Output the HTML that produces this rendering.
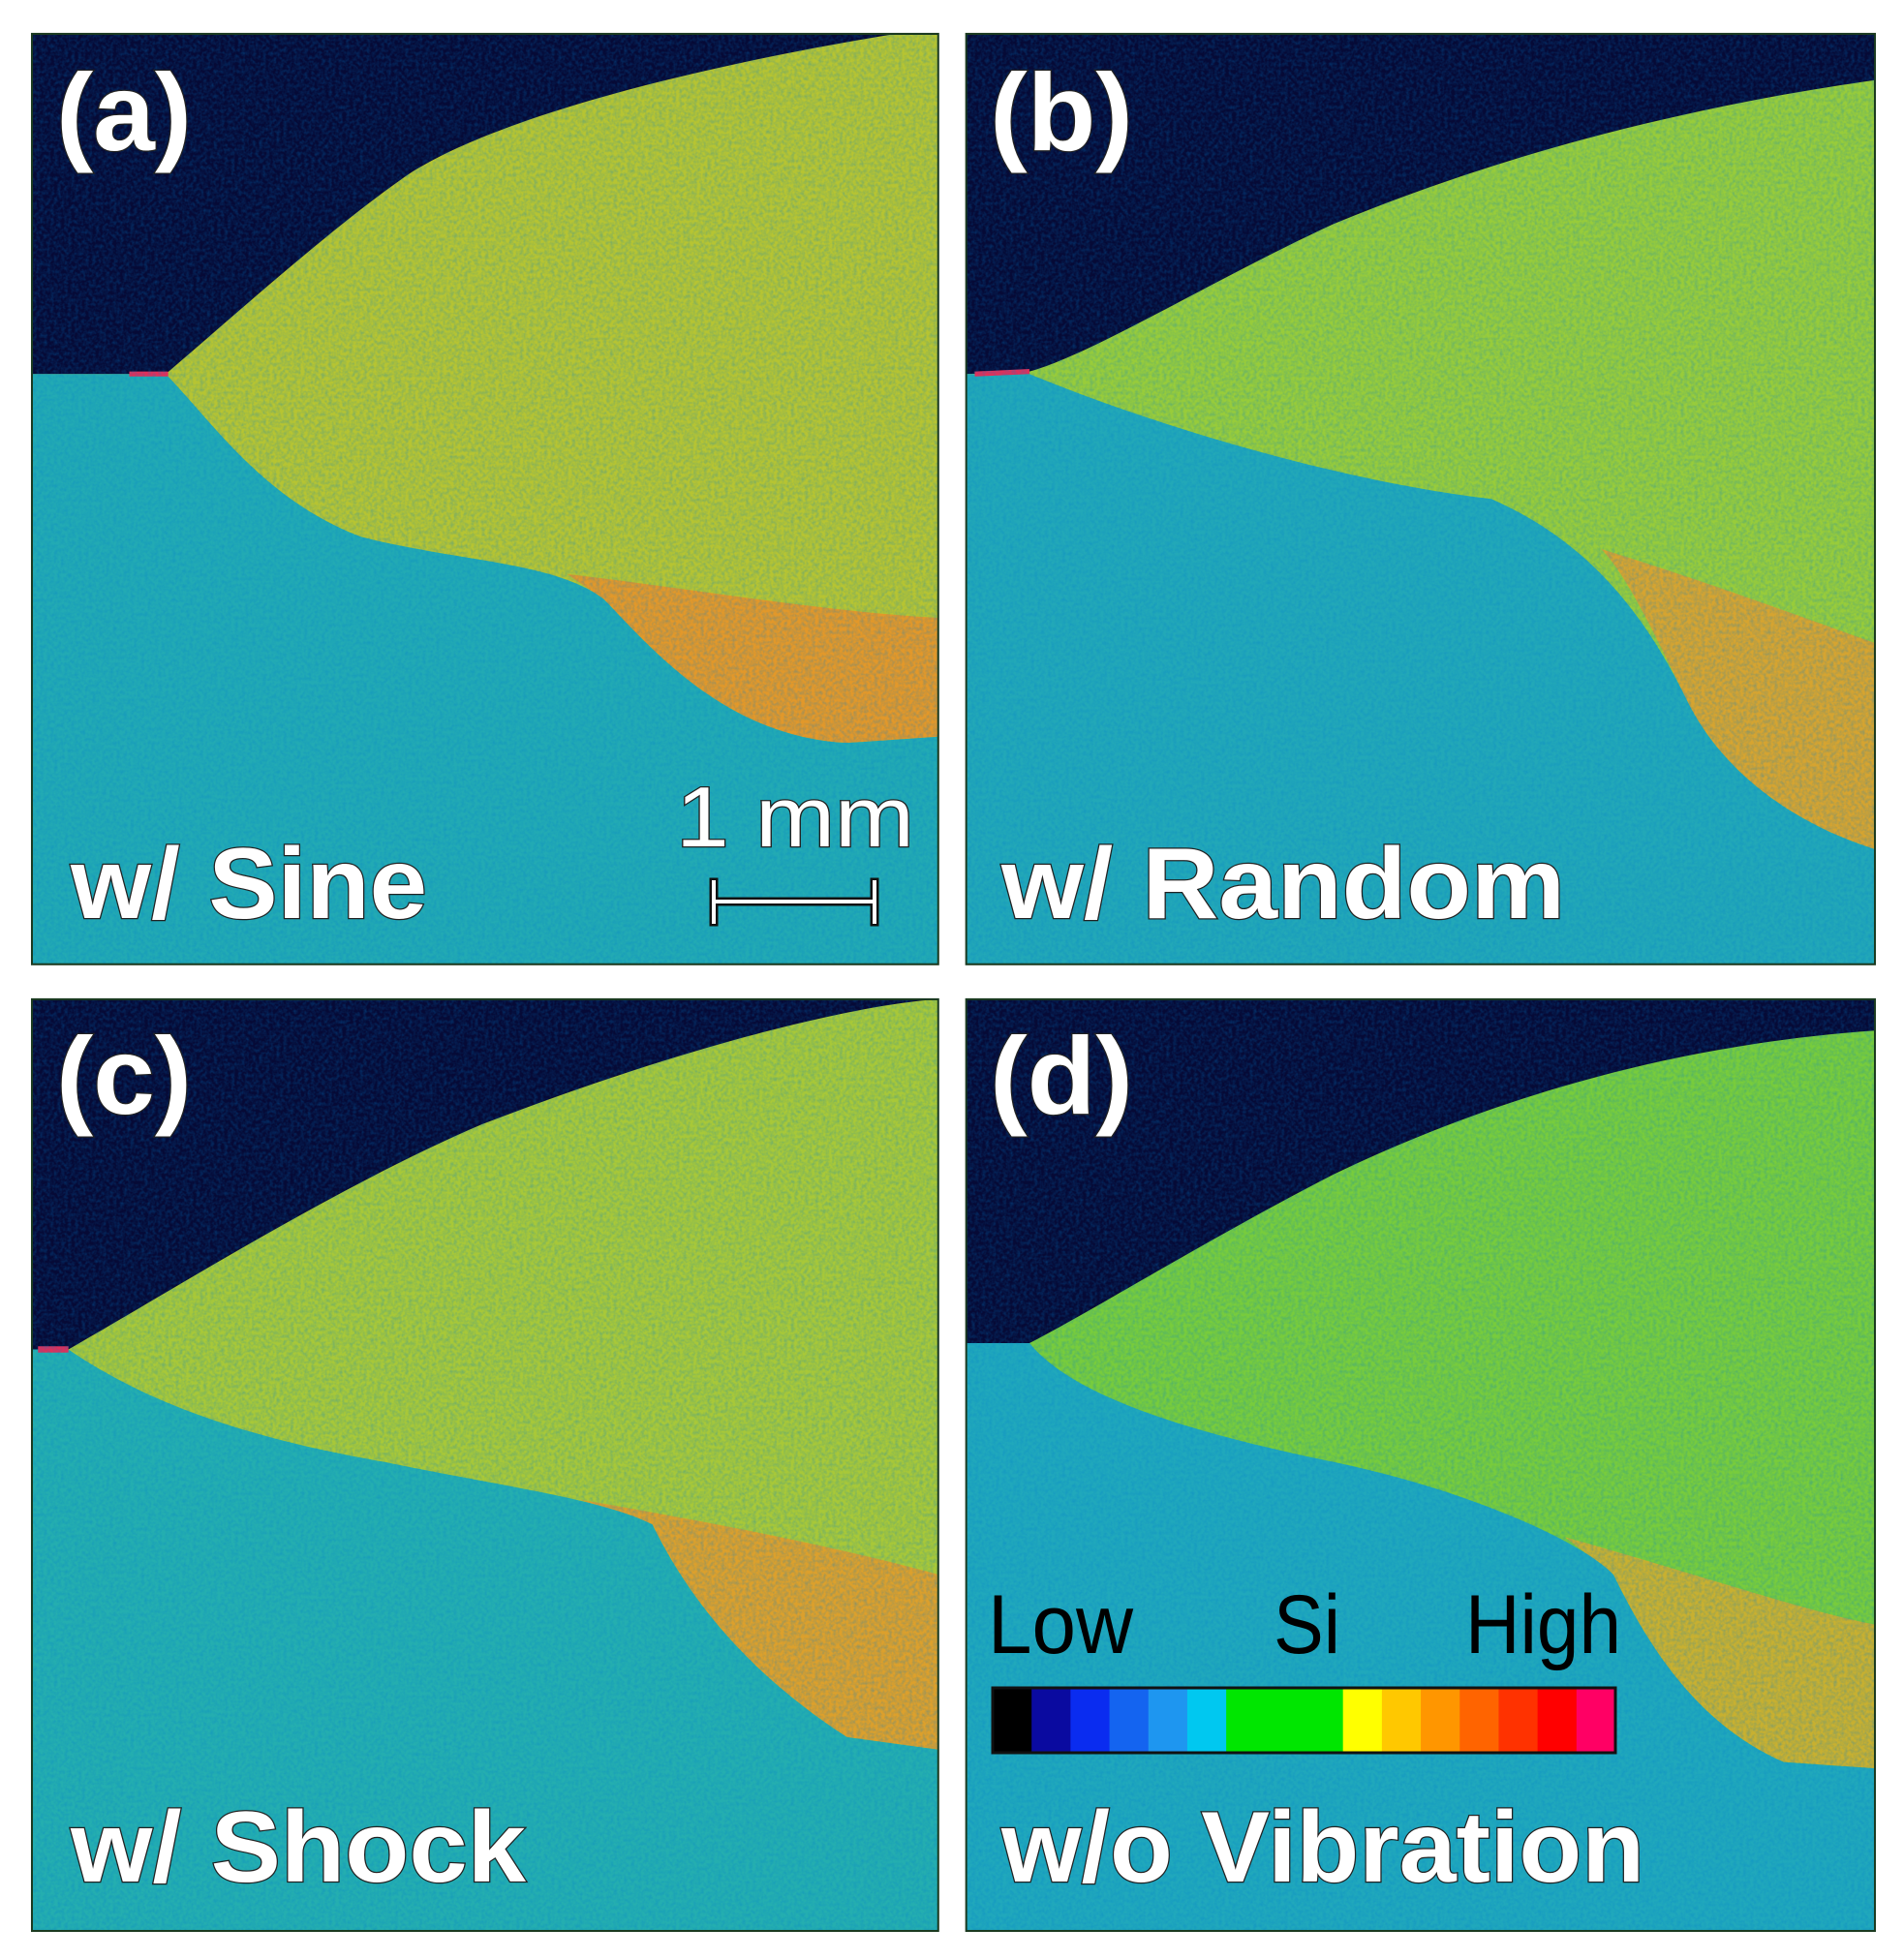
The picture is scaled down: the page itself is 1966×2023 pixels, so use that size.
<!DOCTYPE html>
<html><head><meta charset="utf-8"><style>
html,body{margin:0;padding:0;background:#fff;}
svg{display:block;}
.lbl{font-family:"Liberation Sans",Arial,sans-serif;font-weight:bold;fill:#fff;stroke:#222;stroke-width:2.5;paint-order:stroke;}
.cb{font-family:"Liberation Sans",Arial,sans-serif;fill:#000;}
</style></head><body>
<svg id="fig" width="1966" height="2023" viewBox="0 0 1966 2023" xmlns="http://www.w3.org/2000/svg">
<defs>
<filter id="noise" x="0" y="0" width="100%" height="100%">
<feTurbulence type="fractalNoise" baseFrequency="0.35" numOctaves="2" seed="4"/>
<feColorMatrix type="matrix" values="0 0 0 0 0  0 0 0 0 0.2  0 0 0 0 0.6  0 0 0 -1.6 1.05"/>
</filter>
<clipPath id="ca"><rect x="30" y="28" width="745" height="744"/></clipPath>
<clipPath id="cbp"><rect x="798" y="28" width="747" height="744"/></clipPath>
<clipPath id="cc"><rect x="30" y="800" width="745" height="745"/></clipPath>
<clipPath id="cd"><rect x="798" y="800" width="747" height="745"/></clipPath>
</defs>
<g transform="matrix(1.2561,0,0,1.2914,-4.7,-1.2)">
<g clip-path="url(#ca)">
<rect x="30" y="28" width="745" height="744" fill="#b6c432"/>
<path d="M470,460 C560,470 680,490 775,495 L775,590 L700,595 C600,590 540,520 500,480 Z" fill="#e2982a"/>
<path d="M30,28 L740,28 C600,50 420,90 340,140 C280,180 200,250 140,300 L30,300 Z" fill="#060a36"/>
<path d="M30,300 L140,300 C180,340 220,400 300,430 C380,450 460,450 500,480 C540,520 600,590 700,595 L775,590 L775,772 L30,772 Z" fill="#22aab4"/>
<path d="M110,300 L142,300" stroke="#e0305a" stroke-width="4"/>
<rect x="30" y="28" width="745" height="744" filter="url(#noise)" opacity="0.35"/>
</g>
<g clip-path="url(#cbp)">
<rect x="798" y="28" width="747" height="744" fill="#98cc3a"/>
<path d="M1320,440 C1420,470 1500,500 1545,515 L1545,680 C1480,660 1420,620 1390,560 C1360,500 1340,460 1320,440 Z" fill="#d6a430"/>
<path d="M798,28 L1545,28 L1545,65 C1400,85 1250,120 1100,180 C1000,225 900,285 850,298 L798,300 Z" fill="#060a36"/>
<path d="M798,300 L850,300 C950,340 1100,385 1230,400 C1300,430 1350,480 1390,560 C1420,620 1480,660 1545,680 L1545,772 L798,772 Z" fill="#22a8b8"/>
<path d="M805,300 L850,298" stroke="#e0305a" stroke-width="4"/>
<rect x="798" y="28" width="747" height="744" filter="url(#noise)" opacity="0.35"/>
</g>
<g clip-path="url(#cc)">
<rect x="30" y="800" width="745" height="745" fill="#a8c838"/>
<path d="M480,1200 C600,1220 700,1240 775,1260 L775,1400 L700,1390 C620,1340 570,1280 540,1220 Z" fill="#dca02c"/>
<path d="M30,800 L775,800 C700,805 560,840 400,900 C280,950 150,1030 60,1080 L30,1080 Z" fill="#060a36"/>
<path d="M30,1080 L60,1080 C120,1120 200,1150 320,1170 C420,1190 500,1200 540,1220 C570,1280 620,1340 700,1390 L775,1400 L775,1545 L30,1545 Z" fill="#24aeb0"/>
<path d="M35,1080 L60,1080" stroke="#e0305a" stroke-width="5"/>
<rect x="30" y="800" width="745" height="745" filter="url(#noise)" opacity="0.35"/>
</g>
<g clip-path="url(#cd)">
<rect x="798" y="800" width="747" height="745" fill="#78cc3c"/>
<path d="M1290,1230 C1400,1260 1490,1290 1545,1300 L1545,1415 L1470,1410 C1400,1380 1360,1320 1330,1260 Z" fill="#c8b030"/>
<path d="M798,800 L1545,800 L1545,825 C1400,835 1250,870 1100,940 C1000,990 900,1050 850,1075 L798,1075 Z" fill="#060a36"/>
<path d="M798,1075 L850,1075 C880,1110 950,1140 1100,1170 C1200,1190 1300,1230 1330,1260 C1360,1320 1400,1380 1470,1410 L1545,1415 L1545,1545 L798,1545 Z" fill="#20a8bc"/>
<rect x="798" y="800" width="747" height="745" filter="url(#noise)" opacity="0.35"/>
</g>
<g fill="none" stroke="#1a3a20" stroke-width="1.6">
<rect x="30" y="28" width="745" height="744"/><rect x="798" y="28" width="747" height="744"/>
<rect x="30" y="800" width="745" height="745"/><rect x="798" y="800" width="747" height="745"/>
</g>
</g>
<text class="lbl" x="58" y="155" font-size="113" textLength="140" lengthAdjust="spacingAndGlyphs">(a)</text>
<text class="lbl" x="1022" y="155" font-size="113" textLength="148" lengthAdjust="spacingAndGlyphs">(b)</text>
<text class="lbl" x="58" y="1150" font-size="113" textLength="140" lengthAdjust="spacingAndGlyphs">(c)</text>
<text class="lbl" x="1022" y="1150" font-size="113" textLength="148" lengthAdjust="spacingAndGlyphs">(d)</text>
<text class="lbl" x="73" y="948" font-size="104" textLength="368" lengthAdjust="spacingAndGlyphs">w/ Sine</text>
<text class="lbl" x="1034" y="948" font-size="104" textLength="582" lengthAdjust="spacingAndGlyphs">w/ Random</text>
<text class="lbl" x="73" y="1943" font-size="104" textLength="470" lengthAdjust="spacingAndGlyphs">w/ Shock</text>
<text class="lbl" x="1034" y="1943" font-size="104" textLength="664" lengthAdjust="spacingAndGlyphs">w/o Vibration</text>
<text class="lbl" x="698" y="874" font-size="88" textLength="246" lengthAdjust="spacingAndGlyphs" style="font-weight:normal">1 mm</text>
<g stroke="#111" stroke-width="9" stroke-linecap="square">
<path d="M737,931 L903,931 M737,911 L737,952 M903,911 L903,952"/>
</g>
<g stroke="#fff" stroke-width="4" stroke-linecap="square">
<path d="M737,931 L903,931 M737,911 L737,952 M903,911 L903,952"/>
</g>
<text class="cb" x="1020" y="1707" font-size="86" textLength="150" lengthAdjust="spacingAndGlyphs">Low</text>
<text class="cb" x="1315" y="1707" font-size="86" textLength="69" lengthAdjust="spacingAndGlyphs">Si</text>
<text class="cb" x="1513" y="1707" font-size="86" textLength="161" lengthAdjust="spacingAndGlyphs">High</text>
<g id="colorbar"></g>
</svg>
<script>
const cbColors = ["#000000","#0a0aa0","#0a2cf0","#1464f0","#1e96f0","#00c8f0","#00e600","#00e600","#00e600","#ffff00","#ffc800","#ff9600","#ff6400","#ff3200","#ff0000","#ff0064"];
const cbX0 = 1025, cbX1 = 1668, cbY = 1743, cbH = 67;
const ns = "http://www.w3.org/2000/svg";
const g = document.getElementById("colorbar");
const w = (cbX1 - cbX0) / cbColors.length;
cbColors.forEach((c, i) => {
  const r = document.createElementNS(ns, "rect");
  r.setAttribute("x", cbX0 + i * w); r.setAttribute("y", cbY);
  r.setAttribute("width", w + 0.5); r.setAttribute("height", cbH);
  r.setAttribute("fill", c);
  
  
  g.appendChild(r);
});
const b = document.createElementNS(ns, "rect");
b.setAttribute("x", cbX0); b.setAttribute("y", cbY); b.setAttribute("width", cbX1 - cbX0); b.setAttribute("height", cbH);
b.setAttribute("fill", "none"); b.setAttribute("stroke", "#111"); b.setAttribute("stroke-width", "3");


g.appendChild(b);
</script>
</body></html>
